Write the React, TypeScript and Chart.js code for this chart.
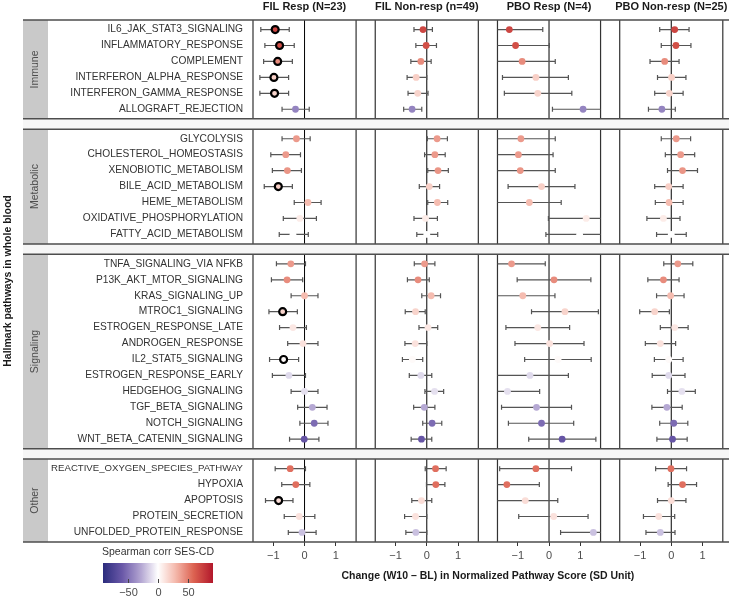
import React, { useEffect, useRef } from "react";
import { Chart, registerables } from "chart.js";
Chart.register(...registerables);

const FONT = "'Liberation Sans', Arial, Helvetica, sans-serif";

const groups = ["Immune", "Metabolic", "Signaling", "Other"];
const groupSizes = [6, 7, 12, 5];
const pathways = [
  "IL6_JAK_STAT3_SIGNALING", "INFLAMMATORY_RESPONSE", "COMPLEMENT", "INTERFERON_ALPHA_RESPONSE",
  "INTERFERON_GAMMA_RESPONSE", "ALLOGRAFT_REJECTION",
  "GLYCOLYSIS", "CHOLESTEROL_HOMEOSTASIS", "XENOBIOTIC_METABOLISM", "BILE_ACID_METABOLISM",
  "HEME_METABOLISM", "OXIDATIVE_PHOSPHORYLATION", "FATTY_ACID_METABOLISM",
  "TNFA_SIGNALING_VIA NFKB", "P13K_AKT_MTOR_SIGNALING", "KRAS_SIGNALING_UP", "MTROC1_SIGNALING",
  "ESTROGEN_RESPONSE_LATE", "ANDROGEN_RESPONSE", "IL2_STAT5_SIGNALING", "ESTROGEN_RESPONSE_EARLY",
  "HEDGEHOG_SIGNALING", "TGF_BETA_SIGNALING", "NOTCH_SIGNALING", "WNT_BETA_CATENIN_SIGNALING",
  "REACTIVE_OXYGEN_SPECIES_PATHWAY", "HYPOXIA", "APOPTOSIS", "PROTEIN_SECRETION", "UNFOLDED_PROTEIN_RESPONSE",
];
const panelTitles = ["FIL Resp (N=23)", "FIL Non-resp (n=49)", "PBO Resp (N=4)", "PBO Non-resp (N=25)"];

// Spearman corr with SES-CD (colour)
const corr = [72, 68, 45, 20, 18, -42, 40, 40, 42, 20, 28, 8, 0, 40, 45, 28, 18, 10, 12, 2, -12, -10, -28, -52, -62, 55, 55, 14, 12, -20];

const filRespEst = [-0.94, -0.80, -0.86, -0.98, -0.96, -0.29, -0.26, -0.60, -0.55, -0.84, 0.11, -0.15, -0.37, -0.44, -0.56, 0.0, -0.70, -0.37, -0.05, -0.67, -0.50, 0.0, 0.25, 0.31, -0.01, -0.46, -0.28, -0.83, -0.17, -0.08];
const filRespLo = [-1.40, -1.27, -1.31, -1.43, -1.43, -0.72, -0.72, -1.08, -1.03, -1.29, -0.33, -0.68, -0.81, -0.90, -1.06, -0.43, -1.14, -0.80, -0.54, -1.12, -1.03, -0.43, -0.22, -0.15, -0.48, -0.94, -0.73, -1.25, -0.65, -0.52];
const filRespHi = [-0.49, -0.33, -0.39, -0.51, -0.51, 0.15, 0.18, -0.13, -0.10, -0.39, 0.53, 0.38, 0.12, 0.03, -0.06, 0.43, -0.23, 0.06, 0.43, -0.19, 0.03, 0.43, 0.72, 0.75, 0.46, 0.03, 0.17, -0.37, 0.33, 0.37];
const filRespSig = [1, 1, 1, 1, 1, 0, 0, 0, 0, 1, 0, 0, 0, 0, 0, 0, 1, 0, 0, 1, 0, 0, 0, 0, 0, 0, 0, 1, 0, 0];

const filNonEst = [-0.12, -0.02, -0.19, -0.34, -0.29, -0.47, 0.33, 0.26, 0.36, 0.08, 0.34, -0.04, 0.0, -0.07, -0.28, 0.14, -0.36, 0.04, -0.37, -0.46, -0.19, 0.25, -0.08, 0.17, -0.17, 0.28, 0.29, -0.17, -0.36, -0.35];
const filNonLo = [-0.41, -0.35, -0.51, -0.63, -0.60, -0.74, 0.02, -0.07, 0.03, -0.24, 0.03, -0.41, -0.32, -0.40, -0.62, -0.16, -0.69, -0.25, -0.70, -0.78, -0.56, -0.06, -0.42, -0.13, -0.50, -0.05, -0.01, -0.48, -0.71, -0.67];
const filNonHi = [0.18, 0.31, 0.14, 0.0, 0.04, -0.16, 0.66, 0.59, 0.69, 0.41, 0.67, 0.34, 0.35, 0.26, 0.08, 0.44, -0.05, 0.35, 0.0, -0.13, 0.16, 0.54, 0.26, 0.48, 0.16, 0.62, 0.58, 0.16, 0.0, 0.0];

const pboRespEst = [-1.27, -1.07, -0.86, -0.42, -0.36, 1.09, -0.90, -0.98, -0.92, -0.24, -0.63, 1.19, 0.98, -1.20, 0.16, -0.84, 0.51, -0.36, 0.02, 0.29, -0.61, -1.33, -0.40, -0.24, 0.42, -0.42, -1.35, -0.76, 0.15, 1.42];
const pboRespLo = [-2.34, -2.15, -1.92, -1.49, -1.43, 0.11, -2.0, -2.09, -2.04, -1.31, -1.70, -0.02, -0.10, -2.28, -1.02, -1.87, -0.56, -1.38, -1.09, -0.78, -1.84, -2.36, -1.52, -1.30, -0.65, -1.58, -2.39, -1.80, -0.97, 0.37];
const pboRespHi = [-0.20, 0.01, 0.20, 0.62, 0.73, 2.07, 0.20, 0.13, 0.20, 0.83, 0.39, 2.40, 2.06, -0.12, 1.34, 0.19, 1.58, 0.66, 1.12, 1.35, 0.62, -0.30, 0.72, 0.79, 1.50, 0.72, -0.31, 0.28, 1.25, 2.47];

const pboNonEst = [0.11, 0.15, -0.21, 0.01, -0.06, -0.30, 0.16, 0.30, 0.36, -0.08, -0.07, -0.25, 0.0, 0.21, -0.25, -0.02, -0.53, 0.11, -0.35, -0.08, -0.08, 0.34, -0.14, 0.08, 0.04, -0.01, 0.36, 0.0, -0.40, -0.35];
const pboNonLo = [-0.37, -0.32, -0.68, -0.44, -0.53, -0.73, -0.32, -0.19, -0.12, -0.53, -0.51, -0.78, -0.47, -0.24, -0.75, -0.47, -1.01, -0.35, -0.83, -0.54, -0.61, -0.12, -0.62, -0.37, -0.46, -0.50, -0.10, -0.44, -0.89, -0.81];
const pboNonHi = [0.57, 0.63, 0.25, 0.47, 0.38, 0.13, 0.62, 0.75, 0.84, 0.38, 0.38, 0.28, 0.48, 0.69, 0.25, 0.41, -0.06, 0.54, 0.14, 0.38, 0.44, 0.77, 0.35, 0.53, 0.51, 0.49, 0.81, 0.47, 0.11, 0.12];

const xTicks = [-1, 0, 1];
const xTickLabels = ["\u22121", "0", "1"];
const corrTicks = [-50, 0, 50];
const corrTickLabels = ["\u221250", "0", "50"];
const CORR_MIN = -92;
const CORR_MAX = 92;

const colorStops: [number, number[]][] = [
  [-92, [43, 44, 125]],
  [-60, [106, 88, 168]],
  [-30, [176, 162, 208]],
  [0, [255, 255, 255]],
  [30, [244, 183, 170]],
  [60, [220, 97, 80]],
  [92, [178, 24, 43]],
];
function corrColor(v: number): string {
  const c = Math.max(CORR_MIN, Math.min(CORR_MAX, v));
  for (let i = 0; i < colorStops.length - 1; i++) {
    const [a, ca] = colorStops[i];
    const [b, cb] = colorStops[i + 1];
    if (c >= a && c <= b) {
      const t = (c - a) / (b - a);
      const r = ca.map((x, j) => Math.round(x + (cb[j] - x) * t));
      return `rgb(${r[0]},${r[1]},${r[2]})`;
    }
  }
  return "#fff";
}

const HALF = 1.65;
const PANEL_GAP = 0.613;
const STEP = 2 * HALF + PANEL_GAP;
const ROW_PAD = 0.6;
const GROUP_GAP = 0.65;
const LABEL_SIZE = 10.2;
const LABEL_MAX_W = 192;

const rowPos: number[] = [];
const groupBounds: [number, number][] = [];
{
  let cur = 0;
  groupSizes.forEach((n) => {
    const start = cur;
    for (let i = 0; i < n; i++) rowPos.push(start + ROW_PAD + i);
    const end = start + n - 1 + 2 * ROW_PAD;
    groupBounds.push([start, end]);
    cur = end + GROUP_GAP;
  });
}
const Y_MAX = groupBounds[groupBounds.length - 1][1];

const panels = [
  { est: filRespEst, lo: filRespLo, hi: filRespHi, sig: filRespSig },
  { est: filNonEst, lo: filNonLo, hi: filNonHi, sig: null },
  { est: pboRespEst, lo: pboRespLo, hi: pboRespHi, sig: null },
  { est: pboNonEst, lo: pboNonLo, hi: pboNonHi, sig: null },
];

let measureCtx: CanvasRenderingContext2D | null = null;
function labelSize(text: string): number {
  if (!measureCtx) measureCtx = document.createElement("canvas").getContext("2d");
  if (!measureCtx) return LABEL_SIZE;
  measureCtx.font = `${LABEL_SIZE}px ${FONT}`;
  const w = measureCtx.measureText(text).width;
  return w > LABEL_MAX_W ? (LABEL_SIZE * LABEL_MAX_W) / w : LABEL_SIZE;
}

const framePlugin = {
  id: "frame",
  beforeDatasetsDraw(chart: any) {
    const { ctx, scales } = chart;
    const x = scales.x;
    const y = scales.y;
    const W = chart.width;
    const stripL = 23;
    const stripW = 25;
    ctx.save();
    for (let g = 0; g < groupBounds.length - 1; g++) {
      const a = y.getPixelForValue(groupBounds[g][1]);
      const b = y.getPixelForValue(groupBounds[g + 1][0]);
      ctx.fillStyle = "#f6f6f6";
      ctx.fillRect(stripL, a, W - stripL, b - a);
    }
    groupBounds.forEach(([s, e], g) => {
      const top = y.getPixelForValue(s);
      const bot = y.getPixelForValue(e);
      ctx.fillStyle = "#c9c9c9";
      ctx.fillRect(stripL, top, stripW, bot - top);
      ctx.save();
      ctx.translate(stripL + stripW / 2, (top + bot) / 2);
      ctx.rotate(-Math.PI / 2);
      ctx.fillStyle = "#4d4d4d";
      ctx.font = `10.5px ${FONT}`;
      ctx.textAlign = "center";
      ctx.textBaseline = "middle";
      ctx.fillText(groups[g], 0, 0);
      ctx.restore();
      panels.forEach((_, k) => {
        const l = x.getPixelForValue(k * STEP - HALF);
        const r = x.getPixelForValue(k * STEP + HALF);
        const z = x.getPixelForValue(k * STEP);
        ctx.strokeStyle = "#333";
        ctx.lineWidth = 1.2;
        ctx.beginPath();
        ctx.moveTo(l, top);
        ctx.lineTo(l, bot);
        ctx.moveTo(r, top);
        ctx.lineTo(r, bot);
        ctx.stroke();
        ctx.strokeStyle = "#000";
        ctx.lineWidth = 1;
        ctx.beginPath();
        ctx.moveTo(z, top);
        ctx.lineTo(z, bot);
        ctx.stroke();
      });
      ctx.strokeStyle = "#4d4d4d";
      ctx.lineWidth = 1.5;
      ctx.beginPath();
      ctx.moveTo(stripL, top);
      ctx.lineTo(W, top);
      ctx.moveTo(stripL, bot);
      ctx.lineTo(W, bot);
      ctx.stroke();
    });
    panels.forEach((p, k) => {
      p.est.forEach((_, i) => {
        const lo = Math.max(p.lo[i], -HALF);
        const hi = Math.min(p.hi[i], HALF);
        const x0 = x.getPixelForValue(k * STEP + lo);
        const x1 = x.getPixelForValue(k * STEP + hi);
        const yy = y.getPixelForValue(rowPos[i]);
        ctx.strokeStyle = "#555";
        ctx.lineWidth = 1.2;
        ctx.beginPath();
        ctx.moveTo(x0, yy);
        ctx.lineTo(x1, yy);
        if (p.lo[i] >= -HALF) {
          ctx.moveTo(x0, yy - 2.5);
          ctx.lineTo(x0, yy + 2.5);
        }
        if (p.hi[i] <= HALF) {
          ctx.moveTo(x1, yy - 2.5);
          ctx.lineTo(x1, yy + 2.5);
        }
        ctx.stroke();
      });
    });
    ctx.restore();
  },
  afterDraw(chart: any) {
    const { ctx, scales } = chart;
    const x = scales.x;
    ctx.save();
    ctx.fillStyle = "#1a1a1a";
    ctx.font = `bold 11px ${FONT}`;
    ctx.textAlign = "center";
    ctx.textBaseline = "middle";
    panelTitles.forEach((t, k) => {
      ctx.fillText(t, x.getPixelForValue(k * STEP), 6.5);
    });
    const bl = 103, bw = 110, bt = 563, bh = 20;
    ctx.fillStyle = "#333";
    ctx.font = `10.5px ${FONT}`;
    ctx.fillText("Spearman corr SES-CD", bl + bw / 2, 552.5);
    const grad = ctx.createLinearGradient(bl, 0, bl + bw, 0);
    for (let s = 0; s <= 40; s++) {
      const v = CORR_MIN + ((CORR_MAX - CORR_MIN) * s) / 40;
      grad.addColorStop(s / 40, corrColor(v));
    }
    ctx.fillStyle = grad;
    ctx.fillRect(bl, bt, bw, bh);
    const cx = (v: number) => bl + ((v - CORR_MIN) / (CORR_MAX - CORR_MIN)) * bw;
    ctx.strokeStyle = "#444";
    ctx.lineWidth = 1;
    ctx.fillStyle = "#4d4d4d";
    ctx.font = `11px ${FONT}`;
    corrTicks.forEach((v, i) => {
      const px = Math.round(cx(v)) + 0.5;
      ctx.beginPath();
      ctx.moveTo(px, bt + bh - 4);
      ctx.lineTo(px, bt + bh);
      ctx.stroke();
      ctx.fillText(corrTickLabels[i], px, 592.5);
    });
    ctx.restore();
  },
};

export default function App() {
  const ref = useRef<HTMLCanvasElement>(null);
  useEffect(() => {
    if (!ref.current) return;
    Chart.defaults.font.family = FONT;
    const datasets = panels.map((p, k) => ({
      type: "scatter" as const,
      label: panelTitles[k],
      data: p.est.map((v, i) => ({ x: k * STEP + v, y: rowPos[i] })),
      backgroundColor: corr.map(corrColor),
      pointBackgroundColor: corr.map(corrColor),
      pointRadius: p.est.map((_, i) => (p.sig && p.sig[i] ? 3.5 : 3.4)),
      pointBorderWidth: p.est.map((_, i) => (p.sig && p.sig[i] ? 2.2 : 0)),
      pointBorderColor: p.est.map((_, i) => (p.sig && p.sig[i] ? "#000" : "rgba(0,0,0,0)")),
    }));
    const chart = new Chart(ref.current, {
      type: "scatter",
      data: { datasets },
      options: {
        animation: false,
        responsive: false,
        events: [],
        layout: { padding: { top: 20, right: 2, left: 0, bottom: 0 } },
        plugins: { legend: { display: false }, tooltip: { enabled: false } },
        scales: {
          x: {
            type: "linear",
            bounds: "data",
            min: -HALF,
            max: 3 * STEP + HALF,
            afterBuildTicks: (s: any) => {
              s.ticks = panels.flatMap((_, k) => xTicks.map((t) => ({ value: k * STEP + t })));
            },
            afterFit: (s: any) => {
              s.height = 56;
            },
            ticks: {
              autoSkip: false,
              maxRotation: 0,
              color: "#4d4d4d",
              font: { size: 11 },
              padding: 3,
              callback: (_v: any, i: number) => xTickLabels[i % xTicks.length],
            },
            grid: { drawOnChartArea: false, drawTicks: true, tickLength: 4, color: "#333" },
            border: { display: false },
            title: {
              display: true,
              text: "Change (W10 \u2013 BL) in Normalized Pathway Score (SD Unit)",
              color: "#1a1a1a",
              font: { size: 10.5, weight: "bold" },
              padding: { top: 0, bottom: 16 },
            },
          },
          y: {
            type: "linear",
            bounds: "data",
            reverse: true,
            min: 0,
            max: Y_MAX,
            afterBuildTicks: (s: any) => {
              s.ticks = rowPos.map((v) => ({ value: v }));
            },
            afterFit: (s: any) => {
              s.width = 253;
            },
            ticks: {
              autoSkip: false,
              padding: 10,
              color: "#333",
              font: (c: any) => ({ size: labelSize(pathways[c.index] || ""), family: FONT }),
              callback: (_v: any, i: number) => pathways[i],
            },
            grid: { display: false, drawTicks: false },
            border: { display: false },
            title: {
              display: true,
              text: "Hallmark pathways in whole blood",
              color: "#1a1a1a",
              font: { size: 10.5, weight: "bold" },
              padding: { top: 2, bottom: 0 },
            },
          },
        },
      },
      plugins: [framePlugin],
    } as any);
    return () => chart.destroy();
  }, []);
  return (
    <div style={{ position: "absolute", left: 0, top: 0, width: 729, height: 598, background: "#fff" }}>
      <canvas ref={ref} width={729} height={598} style={{ display: "block", width: 729, height: 598 }} />
    </div>
  );
}
